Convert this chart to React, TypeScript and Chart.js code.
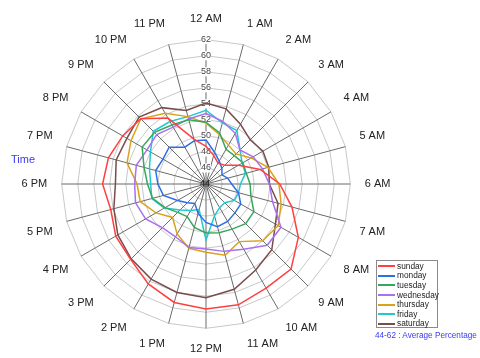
import React, { useEffect, useRef } from "react";
import { Chart, registerables } from "chart.js";

Chart.register(...registerables);

const hours = [
  "12 AM", "1 AM", "2 AM", "3 AM", "4 AM", "5 AM", "6 AM", "7 AM", "8 AM", "9 AM", "10 AM", "11 AM",
  "12 PM", "1 PM", "2 PM", "3 PM", "4 PM", "5 PM", "6 PM", "7 PM", "8 PM", "9 PM", "10 PM", "11 PM",
];

const sunday = [48.7, 47.7, 47.0, 47.3, 48.7, 51.0, 53.2, 55.1, 57.3, 59.0, 59.0, 59.6, 59.6, 59.3, 58.4, 57.3, 57.0, 56.3, 56.9, 56.6, 56.0, 55.5, 53.5, 49.8];
const monday = [49.5, 48.1, 47.3, 46.8, 46.3, 46.8, 47.2, 48.2, 49.0, 49.1, 49.4, 49.5, 48.8, 47.8, 46.8, 47.3, 48.1, 49.5, 50.0, 50.5, 50.2, 50.5, 49.3, 49.6];
const tuesday = [51.7, 50.6, 49.0, 49.0, 49.3, 49.2, 49.5, 49.8, 50.9, 51.0, 50.5, 50.3, 50.1, 49.6, 48.7, 49.0, 49.9, 50.9, 51.3, 52.0, 53.2, 53.1, 52.5, 52.3];
const wednesday = [52.8, 52.1, 51.3, 50.0, 50.8, 51.3, 51.9, 52.6, 54.8, 54.8, 53.4, 52.7, 52.1, 52.2, 51.6, 51.7, 52.7, 53.1, 52.9, 53.0, 52.5, 52.7, 52.2, 52.4];
const thursday = [51.6, 50.4, 49.6, 49.3, 50.5, 52.0, 53.1, 53.7, 54.4, 54.0, 52.3, 53.2, 52.5, 52.3, 51.2, 49.9, 51.2, 52.5, 52.6, 54.2, 54.8, 55.5, 54.2, 52.7];
const friday = [53.2, 51.9, 51.7, 50.0, 49.2, 49.1, 48.3, 48.2, 48.1, 47.3, 47.4, 48.1, 51.0, 47.3, 47.8, 48.6, 50.0, 51.0, 50.9, 51.3, 52.0, 53.3, 53.0, 52.7];
const saturday = [54.1, 53.7, 52.6, 51.8, 52.2, 52.1, 51.9, 53.3, 54.0, 55.6, 56.4, 57.6, 58.2, 58.0, 57.7, 57.2, 56.7, 55.9, 55.3, 55.6, 55.4, 55.8, 55.0, 53.5];

const seriesNames = ["sunday", "monday", "tuesday", "wednesday", "thursday", "friday", "saturday"];
const seriesValues = [sunday, monday, tuesday, wednesday, thursday, friday, saturday];
const seriesColors = ["#ff4040", "#2a6fe8", "#35a85c", "#a970f0", "#d9a21c", "#22c8d0", "#7a4c4c"];

const scaleMin = 44;
const scaleMax = 62;
const scaleStep = 2;

const FONT = "'Liberation Sans', Arial, sans-serif";

const centerLabelPlugin = {
  id: "centerLabel",
  afterDatasetsDraw(chart: any) {
    const s = chart.scales.r;
    const ctx = chart.ctx;
    ctx.save();
    ctx.font = `9px ${FONT}`;
    ctx.fillStyle = "#222";
    ctx.textAlign = "center";
    ctx.textBaseline = "middle";
    ctx.fillText(String(scaleMin), s.xCenter - 1, s.yCenter);
    ctx.restore();
  },
};

export default function App() {
  const ref = useRef<HTMLCanvasElement | null>(null);

  useEffect(() => {
    if (!ref.current) return;
    const chart = new Chart(ref.current, {
      type: "radar",
      data: {
        labels: hours,
        datasets: seriesNames.map((name, i) => ({
          label: name,
          data: seriesValues[i],
          borderColor: seriesColors[i],
          backgroundColor: "transparent",
          borderWidth: 1.5,
          pointRadius: 0,
          fill: false,
          tension: 0,
        })),
      },
      options: {
        responsive: false,
        animation: false,
        devicePixelRatio: 1,
        layout: { padding: { left: 20, right: 88, top: 12, bottom: 2 } },
        plugins: { legend: { display: false }, tooltip: { enabled: false } },
        scales: {
          r: {
            min: scaleMin,
            max: scaleMax,
            startAngle: 0,
            ticks: {
              stepSize: scaleStep,
              color: "#444",
              font: { size: 9, family: FONT },
              showLabelBackdrop: true,
              backdropColor: "#fff",
              backdropPadding: 0,
            },
            grid: { color: "#c8c8c8", lineWidth: 1, circular: false },
            angleLines: { color: "#6a6a6a", lineWidth: 1 },
            pointLabels: {
              color: "#222",
              padding: 10,
              font: { size: 11, family: FONT },
            },
          },
        },
      },
      plugins: [centerLabelPlugin],
    });
    return () => chart.destroy();
  }, []);

  const rowTop = 260;
  const rowH = 9.6;

  return (
    <div style={{ position: "fixed", left: 0, top: 0, width: 480, height: 358, background: "#fff", fontFamily: FONT }}>
      <canvas ref={ref} width={480} height={358} style={{ position: "absolute", left: 0, top: 0, width: 480, height: 358 }} />
      <div style={{ position: "absolute", left: 11, top: 153, fontSize: 11, color: "#3a3af0" }}>Time</div>
      <div
        style={{
          position: "absolute",
          left: 376,
          top: rowTop,
          width: 62,
          height: 68,
          border: "1px solid #8a8a8a",
          boxSizing: "border-box",
          background: "#fff",
        }}
      >
        {seriesNames.map((name, i) => (
          <div key={name} style={{ position: "absolute", left: 1, top: 0.5 + i * rowH, height: rowH, width: 59, display: "flex", alignItems: "center" }}>
            <div style={{ width: 17, height: 2, background: seriesColors[i], marginRight: 2, flex: "none" }} />
            <span style={{ fontSize: 8.3, color: "#222", lineHeight: "9px", whiteSpace: "nowrap" }}>{name}</span>
          </div>
        ))}
      </div>
      <div style={{ position: "absolute", left: 375, top: 331, fontSize: 8.2, color: "#3a3af0", whiteSpace: "nowrap" }}>
        44-62 : Average Percentage
      </div>
    </div>
  );
}
